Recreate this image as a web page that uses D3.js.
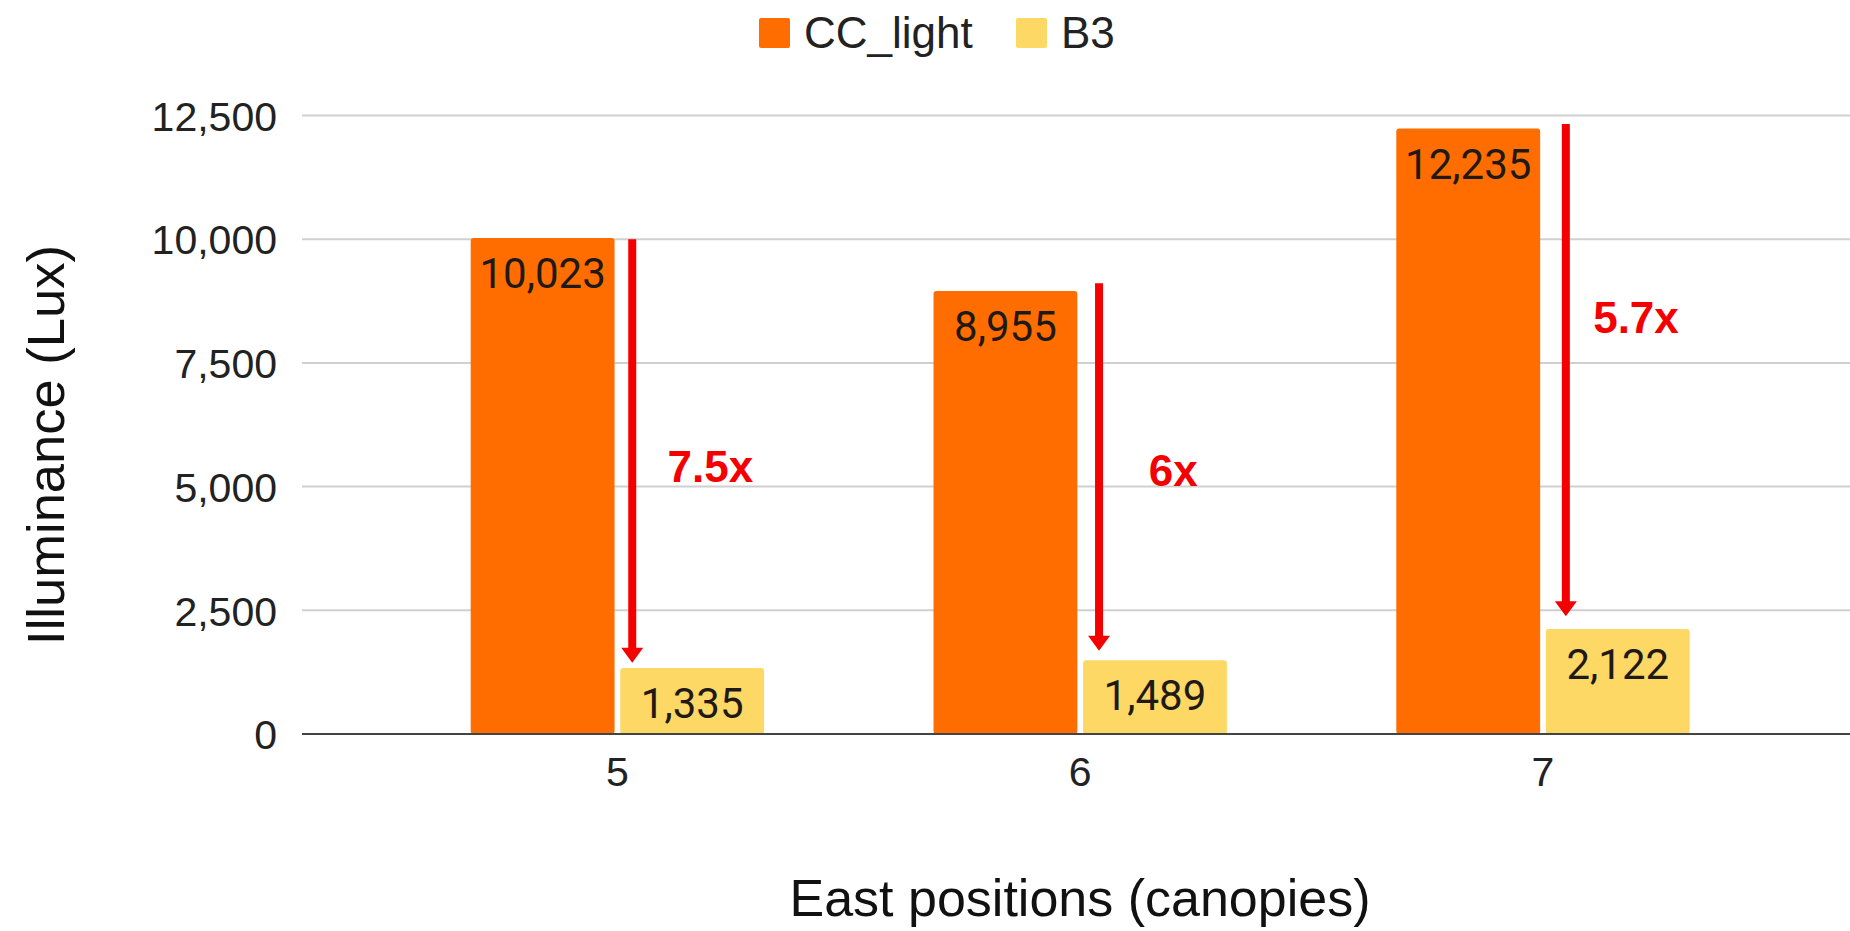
<!DOCTYPE html>
<html>
<head>
<meta charset="utf-8">
<script src="https://cdnjs.cloudflare.com/ajax/libs/d3/7.8.5/d3.min.js"></script>
<style>
  html, body { margin: 0; padding: 0; background: #ffffff; }
  svg { display: block; }
</style>
</head>
<body>
<svg id="chart" width="1850" height="931"></svg>
<script>
// ---- data ----
const categories = ["5", "6", "7"];
const seriesNames = ["CC_light", "B3"];
const ccLight = [10023, 8955, 12235];
const b3 = [1335, 1489, 2122];
const yTicks = [0, 2500, 5000, 7500, 10000, 12500];
const ratioLabels = ["7.5x", "6x", "5.7x"];
const ratioLabelValue = [5100, 5010, 8110];   // vertical position of ratio text (Lux)
const arrowFrom = [10000, 9110, 12330];       // arrow start (Lux)
const arrowTo = [1440, 1680, 2380];           // arrow tip (Lux)
const xTitle = "East positions (canopies)";
const yTitle = "Illuminance (Lux)";

// ---- styles ----
const colors = { "CC_light": "#ff6d01", "B3": "#fdd865" };
const red = "#f50000";
const sansFont = "'Liberation Sans', Arial, sans-serif";
const labelFont = "Roboto, 'Liberation Sans', sans-serif";

const svg = d3.select("#chart");

const gridLeft = 302, gridRight = 1850;
const y = d3.scaleLinear().domain([0, 12500]).range([734, 115.5]);
const x = d3.scaleBand().domain(categories).range([386, 1774.4]).paddingInner(0.366).paddingOuter(0.183);
const xSub = d3.scaleBand().domain(seriesNames).range([0, x.bandwidth()]).paddingInner(0.038);

// gridlines
const grid = svg.append("g");
grid.selectAll("line").data(yTicks.filter(d => d !== 0)).join("line")
  .attr("x1", gridLeft).attr("x2", gridRight)
  .attr("y1", d => y(d)).attr("y2", d => y(d))
  .attr("stroke", "#d0d0d0").attr("stroke-width", 2);

// y axis labels
const yAxis = d3.axisLeft(y).tickValues(yTicks).tickFormat(d3.format(",")).tickSize(0).tickPadding(0);
const yg = svg.append("g").attr("transform", `translate(277,0)`).call(yAxis);
yg.select(".domain").remove();
yg.selectAll("text").attr("font-family", sansFont).attr("font-size", 41).attr("fill", "#222").attr("dy", "0.36em");

// bars
const rows = categories.map((c, i) => ({ cat: c, values: [
  { key: "CC_light", value: ccLight[i] }, { key: "B3", value: b3[i] }] }));
const groups = svg.append("g").selectAll("g").data(rows).join("g")
  .attr("transform", d => `translate(${x(d.cat)},0)`);
groups.selectAll("rect").data(d => d.values).join("rect")
  .attr("x", d => xSub(d.key)).attr("width", xSub.bandwidth())
  .attr("y", d => y(d.value)).attr("height", d => y(0) - y(d.value))
  .attr("rx", 3).attr("fill", d => colors[d.key]);
groups.selectAll("text.val").data(d => d.values).join("text").attr("class", "val")
  .attr("x", d => xSub(d.key) + xSub.bandwidth() / 2)
  .attr("y", d => y(d.value) + 50)
  .attr("text-anchor", "middle")
  .attr("font-family", labelFont).attr("font-size", 42).attr("fill", "#1f1a17")
  .text(d => d3.format(",")(d.value));

// baseline axis
const xAxis = d3.axisBottom(x).tickSize(0).tickPadding(0);
const xg = svg.append("g").attr("transform", `translate(0,${y(0)})`).call(xAxis);
xg.select(".domain").remove();
svg.append("line").attr("x1", gridLeft).attr("x2", gridRight).attr("y1", y(0)).attr("y2", y(0))
  .attr("stroke", "#444").attr("stroke-width", 2);
xg.selectAll("text").attr("font-family", sansFont).attr("font-size", 41).attr("fill", "#222")
  .attr("y", 52).attr("dy", 0);

// arrows
const ann = svg.append("g");
categories.forEach((c, i) => {
  const ax = x(c) + xSub("B3") + 12 + i * 4;
  const tipY = y(arrowTo[i]);
  const headH = 15, headW = 11;
  ann.append("line").attr("x1", ax).attr("x2", ax)
    .attr("y1", y(arrowFrom[i])).attr("y2", tipY - headH + 1)
    .attr("stroke", red).attr("stroke-width", 8);
  ann.append("path")
    .attr("d", `M${ax - headW},${tipY - headH} L${ax + headW},${tipY - headH} L${ax},${tipY} Z`)
    .attr("fill", red);
  ann.append("text")
    .attr("x", x(c) + x.bandwidth() / 2 + 93)
    .attr("y", y(ratioLabelValue[i]))
    .attr("text-anchor", "middle")
    .attr("font-family", sansFont).attr("font-weight", "bold").attr("font-size", 44)
    .attr("fill", red).text(ratioLabels[i]);
});

// legend
const legend = svg.append("g");
const legendX = [759, 1016];
seriesNames.forEach((s, i) => {
  legend.append("rect").attr("x", legendX[i]).attr("y", 18).attr("width", 31).attr("height", 30)
    .attr("rx", 2).attr("fill", colors[s]);
  legend.append("text").attr("x", legendX[i] + 45).attr("y", 48)
    .attr("font-family", sansFont).attr("font-size", 44).attr("fill", "#222").text(s);
});

// titles
svg.append("text").attr("x", 1080).attr("y", 916).attr("text-anchor", "middle")
  .attr("font-family", sansFont).attr("font-size", 52).attr("fill", "#111").text(xTitle);
svg.append("text").attr("transform", "translate(64,445) rotate(-90)").attr("text-anchor", "middle")
  .attr("font-family", sansFont).attr("font-size", 52.5).attr("fill", "#111").text(yTitle);
</script>
</body>
</html>
